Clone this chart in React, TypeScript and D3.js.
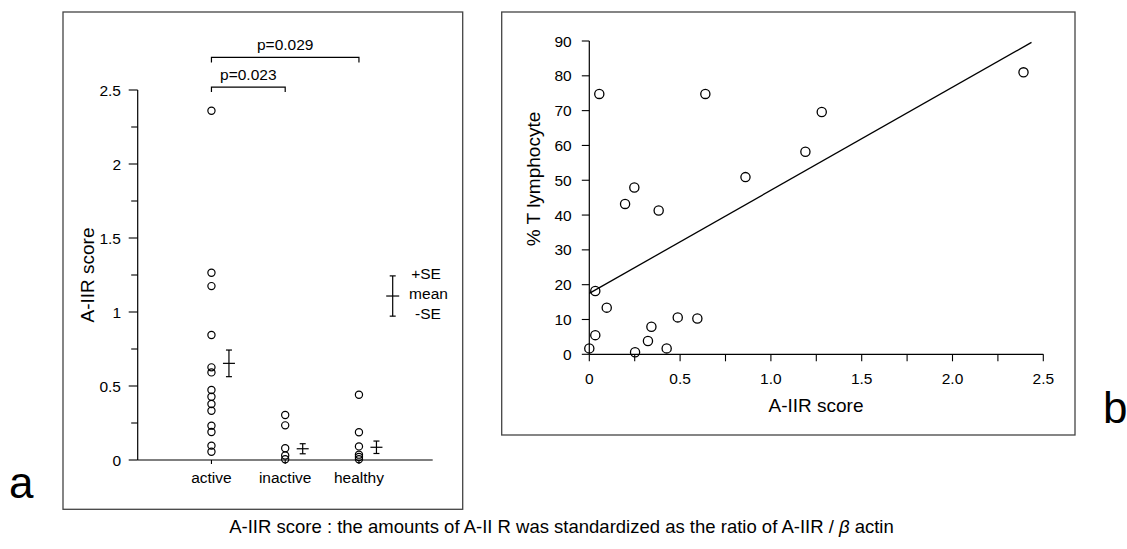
import * as d3 from 'd3'

const FONT = '"Liberation Sans", Arial, Helvetica, sans-serif'

// panel a: A-IIR score by group
const groups = ['active', 'inactive', 'healthy']
const activeScores = [2.36, 1.265, 1.175, 0.845, 0.626, 0.592, 0.473, 0.428, 0.378, 0.333, 0.232, 0.189, 0.097, 0.056]
const inactiveScores = [0.304, 0.234, 0.08, 0.03, 0.005]
const healthyScores = [0.441, 0.187, 0.092, 0.036, 0.02, 0.005]
const groupMeans = [0.653, 0.076, 0.086]
const groupSE = [0.09, 0.034, 0.042]
const scoreTicks = [0, 0.5, 1, 1.5, 2, 2.5]
const scoreTickLabels = ['0', '0.5', '1', '1.5', '2', '2.5']
const scoreMinorTicks = [0.25, 0.75, 1.25, 1.75, 2.25]
const comparisons = [
  { from: 'active', to: 'inactive', y: 2.52, label: 'p=0.023' },
  { from: 'active', to: 'healthy', y: 2.72, label: 'p=0.029' },
]
const legendMean = 1.108
const legendSE = 0.136

// panel b: % T lymphocyte vs A-IIR score
const scatterX = [0.055, 0.639, 1.28, 1.19, 0.86, 0.248, 0.197, 0.382, 2.391, 0.033, 0.096, 0.033, 0, 0.252, 0.323, 0.342, 0.426, 0.487, 0.595]
const scatterY = [74.8, 74.8, 69.6, 58.2, 50.9, 47.9, 43.2, 41.3, 81.0, 18.2, 13.4, 5.5, 1.7, 0.6, 3.8, 7.9, 1.7, 10.6, 10.3]
const fitX = [0, 2.435]
const fitY = [17.5, 89.6]
const bXTicks = [0, 0.5, 1.0, 1.5, 2.0, 2.5]
const bXTickLabels = ['0', '0.5', '1.0', '1.5', '2.0', '2.5']
const bXMinor = [0.25, 0.75, 1.25, 1.75, 2.25]
const bYTicks = [0, 10, 20, 30, 40, 50, 60, 70, 80, 90]

export default function App() {
  // scales for panel a
  const xA = d3.scalePoint<string>().domain(groups).range([137.7, 432.7]).padding(1)
  const yA = d3.scaleLinear().domain([0, 2.5]).range([460, 90])
  const seriesA = [activeScores, inactiveScores, healthyScores]

  // scales for panel b
  const xB = d3.scaleLinear().domain([0, 2.5]).range([589.3, 1043.3])
  const yB = d3.scaleLinear().domain([0, 90]).range([354.3, 41])
  const fitLine = d3.line<number>()
    .x((_, i) => xB(fitX[i]))
    .y(d => yB(d))

  const small = 15.5

  return (
    <svg width={1127} height={549} style={{ position: 'absolute', left: 0, top: 0, background: '#fff' }} fontFamily={FONT}>
      {/* panel frames */}
      <rect x={63} y={12} width={399.7} height={497.3} fill="none" stroke="#444" strokeWidth={1.3} />
      <rect x={501.7} y={12} width={573.3} height={423} fill="none" stroke="#444" strokeWidth={1.3} />

      {/* ---------- panel a ---------- */}
      <line x1={xA.range()[0]} x2={xA.range()[0]} y1={yA(0)} y2={yA(2.5)} stroke="#000" strokeWidth={1.2} />
      <line x1={xA.range()[0]} x2={xA.range()[1]} y1={yA(0)} y2={yA(0)} stroke="#000" strokeWidth={1.2} />
      {scoreTicks.map((t, i) => (
        <g key={t}>
          <line x1={xA.range()[0] - 9} x2={xA.range()[0]} y1={yA(t)} y2={yA(t)} stroke="#000" strokeWidth={1.1} />
          <text x={121} y={yA(t)} dy="0.36em" textAnchor="end" fontSize={small}>{scoreTickLabels[i]}</text>
        </g>
      ))}
      {scoreMinorTicks.map(t => (
        <line key={t} x1={xA.range()[0] - 6.5} x2={xA.range()[0]} y1={yA(t)} y2={yA(t)} stroke="#000" strokeWidth={1.1} />
      ))}
      {groups.map(g => (
        <g key={g}>
          <line x1={xA(g)} x2={xA(g)} y1={yA(0)} y2={yA(0) + 4} stroke="#000" strokeWidth={1.1} />
          <text x={xA(g)} y={483.3} textAnchor="middle" fontSize={small}>{g}</text>
        </g>
      ))}
      <text transform={`translate(93.5, 275) rotate(-90)`} textAnchor="middle" fontSize={19}>A-IIR score</text>

      {/* points */}
      {seriesA.map((vals, gi) => vals.map((v, i) => (
        <circle key={`${gi}-${i}`} cx={xA(groups[gi])} cy={yA(v)} r={3.6} fill="none" stroke="#000" strokeWidth={1.2} />
      )))}

      {/* mean +- SE */}
      {groups.map((g, gi) => {
        const cx = (xA(g) as number) + 17.5
        return (
          <g key={g} stroke="#000" strokeWidth={1.2}>
            <line x1={cx} x2={cx} y1={yA(groupMeans[gi] + groupSE[gi])} y2={yA(groupMeans[gi] - groupSE[gi])} />
            <line x1={cx - 6} x2={cx + 6} y1={yA(groupMeans[gi])} y2={yA(groupMeans[gi])} />
            <line x1={cx - 3} x2={cx + 3} y1={yA(groupMeans[gi] + groupSE[gi])} y2={yA(groupMeans[gi] + groupSE[gi])} />
            <line x1={cx - 3} x2={cx + 3} y1={yA(groupMeans[gi] - groupSE[gi])} y2={yA(groupMeans[gi] - groupSE[gi])} />
          </g>
        )
      })}

      {/* legend */}
      <g stroke="#000" strokeWidth={1.2}>
        <line x1={392.7} x2={392.7} y1={yA(legendMean + legendSE)} y2={yA(legendMean - legendSE)} />
        <line x1={386.2} x2={399.2} y1={yA(legendMean)} y2={yA(legendMean)} />
        <line x1={389.7} x2={395.7} y1={yA(legendMean + legendSE)} y2={yA(legendMean + legendSE)} />
        <line x1={389.7} x2={395.7} y1={yA(legendMean - legendSE)} y2={yA(legendMean - legendSE)} />
      </g>
      <text x={426} y={279} textAnchor="middle" fontSize={small}>+SE</text>
      <text x={428.5} y={299} textAnchor="middle" fontSize={small}>mean</text>
      <text x={428} y={319} textAnchor="middle" fontSize={small}>-SE</text>

      {/* significance brackets */}
      {comparisons.map(c => {
        const x1 = xA(c.from) as number
        const x2 = xA(c.to) as number
        const y = yA(c.y)
        return (
          <g key={c.label}>
            <path d={`M${x1},${y + 5}V${y}H${x2}V${y + 5}`} fill="none" stroke="#000" strokeWidth={1.2} />
            <text x={(x1 + x2) / 2} y={y - 7} textAnchor="middle" fontSize={small}>{c.label}</text>
          </g>
        )
      })}

      {/* ---------- panel b ---------- */}
      <line x1={xB(0)} x2={xB(0)} y1={yB(0)} y2={yB(90)} stroke="#000" strokeWidth={1.2} />
      <line x1={xB(0)} x2={xB(2.5)} y1={yB(0)} y2={yB(0)} stroke="#000" strokeWidth={1.2} />
      {bYTicks.map(t => (
        <g key={t}>
          <line x1={xB(0) - 7.5} x2={xB(0)} y1={yB(t)} y2={yB(t)} stroke="#000" strokeWidth={1.1} />
          <text x={571.7} y={yB(t)} dy="0.36em" textAnchor="end" fontSize={small}>{t}</text>
        </g>
      ))}
      {bXTicks.map((t, i) => (
        <g key={t}>
          <line x1={xB(t)} x2={xB(t)} y1={yB(0)} y2={yB(0) + 7} stroke="#000" strokeWidth={1.1} />
          <text x={xB(t)} y={384.3} textAnchor="middle" fontSize={small}>{bXTickLabels[i]}</text>
        </g>
      ))}
      {bXMinor.map(t => (
        <line key={t} x1={xB(t)} x2={xB(t)} y1={yB(0)} y2={yB(0) + 7} stroke="#000" strokeWidth={1.1} />
      ))}
      <text x={816} y={411.7} textAnchor="middle" fontSize={19}>A-IIR score</text>
      <text transform={`translate(540, 179) rotate(-90)`} textAnchor="middle" fontSize={19}>% T lymphocyte</text>

      <path d={fitLine(fitY) || ''} fill="none" stroke="#000" strokeWidth={1.3} />
      {scatterX.map((x, i) => (
        <circle key={i} cx={xB(x)} cy={yB(scatterY[i])} r={4.6} fill="none" stroke="#000" strokeWidth={1.3} />
      ))}

      {/* panel letters */}
      <text x={9} y={498} fontSize={44}>a</text>
      <text x={1103} y={423} fontSize={44}>b</text>

      {/* caption */}
      <text x={561.5} y={533} textAnchor="middle" fontSize={18.5}>
        A-IIR score : the amounts of A-II R was standardized as the ratio of A-IIR / <tspan fontStyle="italic">β</tspan> actin
      </text>
    </svg>
  )
}
